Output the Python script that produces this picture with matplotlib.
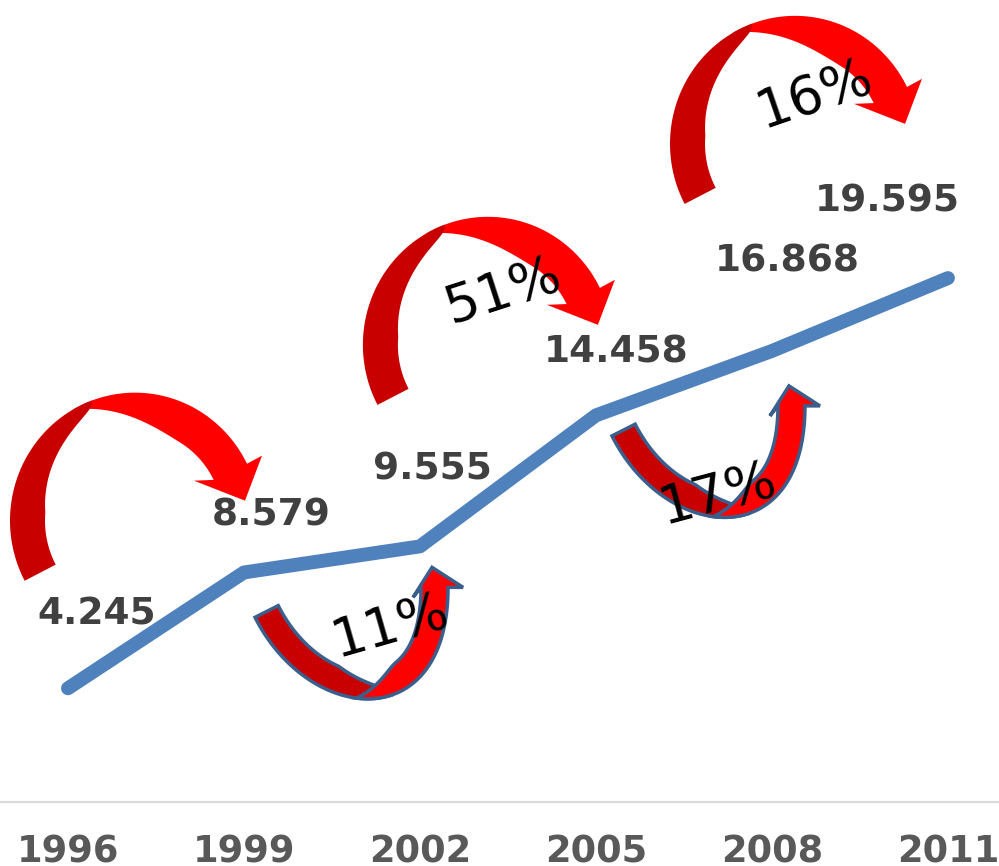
import numpy as np
import matplotlib
matplotlib.use("Agg")
import matplotlib.pyplot as plt
from matplotlib.patches import Polygon
from matplotlib.transforms import IdentityTransform

years = ["1996", "1999", "2002", "2005", "2008", "2011"]
values = [4.245, 8.579, 9.555, 14.458, 16.868, 19.595]
value_labels = ["4.245", "8.579", "9.555", "14.458", "16.868", "19.595"]
growth_labels = ["", "11%", "51%", "17%", "16%"]

LINE_COLOR = "#4f81bd"
DARK_RED = "#c80000"
RED = "#ff0000"
OUTLINE = "#3b5f8c"
LABEL_COLOR = "#404040"
TICK_COLOR = "#595959"

# where each value label sits, offset from its point (points)
label_offsets = [(20.5, 45.6), (19.8, 33.5), (9, 48.5), (14.4, 38.4), (10.8, 56.9), (-43.9, 48.2)]

# arrow kind and tail anchor in data coords, one per segment
arrow_kinds = ["over", "under", "over", "under", "over"]
arrow_anchor_x = [-0.261, 1.063, 1.744, 3.091, 3.489]
arrow_anchor_y = [8.16, 6.90, 14.74, 13.69, 22.26]

# growth text position (data coords) and rotation
pct_x = [None, 1.830, 2.477, 3.688, 4.239]
pct_y = [None, 6.58, 19.11, 11.52, 26.48]
pct_rot = [0, 16, 18, 15, 19]


def over_arrow():
    # clockwise arc arrow, pixel offsets from tail corner (y down)
    cx, cy, rx, ry = 113, -63, 125, 128

    def edge(t_deg):
        t = np.radians(t_deg)
        pts = np.column_stack([cx + rx * np.cos(t), cy - ry * np.sin(t)])
        tan = np.column_stack([rx * np.sin(t), ry * np.cos(t)])
        tan /= np.linalg.norm(tan, axis=1)[:, None]
        nrm = np.column_stack([-tan[:, 1], tan[:, 0]])
        return pts, nrm

    td = np.linspace(208, 110, 90)
    o, n = edge(td)
    w = 35 * np.sqrt(np.clip((td - 110) / 65, 0, 1))
    back = np.vstack([o, (o + n * w[:, None])[::-1]])

    tb = np.linspace(120, 26.4, 110)
    o, n = edge(tb)
    w = 37 * np.sin(np.pi / 2 * np.clip((120 - tb) / 62, 0, 1))
    head = np.array([[240, -128], [223, -83], [172, -103]])
    front = np.vstack([o, head, (o + n * w[:, None])[::-1]])
    return back, front


def under_arrow():
    # u-turn arrow pointing up, pixel offsets from tail corner (y down)
    P = np.array([[0, 0], [54, 107], [193, 120], [193, -30]], dtype=float)

    def edge(u):
        u = u[:, None]
        pts = ((1 - u) ** 3) * P[0] + 3 * ((1 - u) ** 2) * u * P[1] \
            + 3 * (1 - u) * u ** 2 * P[2] + u ** 3 * P[3]
        tan = 3 * ((1 - u) ** 2) * (P[1] - P[0]) + 6 * (1 - u) * u * (P[2] - P[1]) \
            + 3 * u ** 2 * (P[3] - P[2])
        tan /= np.linalg.norm(tan, axis=1)[:, None]
        nrm = np.column_stack([tan[:, 1], -tan[:, 0]])
        return pts, nrm

    ud = np.linspace(0, 0.58, 90)
    o, n = edge(ud)
    w = 26 * np.sqrt(np.clip((0.58 - ud) / 0.25, 0, 1))
    back = np.vstack([o, (o + n * w[:, None])[::-1]])

    ub = np.linspace(0.44, 1, 90)
    o, n = edge(ub)
    w = 27 * np.sin(np.pi / 2 * np.clip((ub - 0.44) / 0.25, 0, 1))
    head = np.array([[208, -30], [177, -50], [158, -20]])
    front = np.vstack([o, head, (o + n * w[:, None])[::-1]])
    return back, front


fig = plt.figure(figsize=(9.99, 8.66), dpi=100)
ax = fig.add_axes([0, 0.0742, 1, 0.9258])

x = np.arange(len(years))
ax.plot(x, values, color=LINE_COLOR, lw=10, solid_capstyle="round",
        solid_joinstyle="round", zorder=3)
ax.set_xlim(-0.386, 5.29)
ax.set_ylim(0, 30)

for s in ["top", "right", "left"]:
    ax.spines[s].set_visible(False)
ax.spines["bottom"].set_color("#d9d9d9")
ax.spines["bottom"].set_linewidth(1.5)
ax.set_yticks([])
ax.set_xticks(x)
ax.set_xticklabels(years, fontsize=26.5, fontweight="bold", color=TICK_COLOR)
ax.tick_params(axis="x", length=0, pad=23)

for xi, v, lab, off in zip(x, values, value_labels, label_offsets):
    ax.annotate(lab, (xi, v), xytext=off, textcoords="offset points",
                ha="center", va="baseline", fontsize=27, fontweight="bold",
                color=LABEL_COLOR, zorder=6)

for kind, axd, ayd in zip(arrow_kinds, arrow_anchor_x, arrow_anchor_y):
    px, py = ax.transData.transform((axd, ayd))
    back, front = over_arrow() if kind == "over" else under_arrow()
    back = np.column_stack([px + back[:, 0], py - back[:, 1]])
    front = np.column_stack([px + front[:, 0], py - front[:, 1]])
    if kind == "over":
        ax.add_patch(Polygon(front, closed=True, fc=RED, ec="none",
                             transform=IdentityTransform(), zorder=4))
        ax.add_patch(Polygon(back, closed=True, fc=DARK_RED, ec="none",
                             transform=IdentityTransform(), zorder=4.1))
    else:
        ax.add_patch(Polygon(back, closed=True, fc=DARK_RED, ec=OUTLINE, lw=2.5,
                             transform=IdentityTransform(), zorder=4))
        ax.add_patch(Polygon(front, closed=True, fc=RED, ec=OUTLINE, lw=2.5,
                             transform=IdentityTransform(), zorder=4.1))

for txt, tx, ty, rot in zip(growth_labels, pct_x, pct_y, pct_rot):
    if txt:
        ax.text(tx, ty, txt, rotation=rot, rotation_mode="anchor", ha="center",
                va="center", fontsize=38.5, color="black", zorder=7)

fig.savefig("out.png", dpi=100)
